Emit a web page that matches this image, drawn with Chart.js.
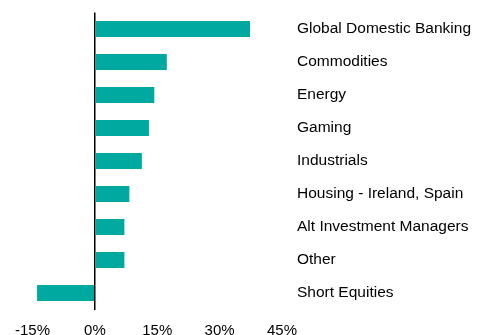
<!DOCTYPE html>
<html lang="en">

<head>
    <meta charset="UTF-8">
    <script src="https://cdn.jsdelivr.net/npm/chart.js"></script>
    <title>Exposure by theme</title>
    <style>
        html, body { margin: 0; padding: 0; background: #fff; }
        .wrap { width: 484px; height: 335px; }
    </style>
</head>

<body>
    <div class="wrap">
        <canvas id="chart-exp" width="484" height="335"></canvas>
    </div>
</body>

</html>

<script>
    const categorias = ['Global Domestic Banking', 'Commodities', 'Energy', 'Gaming', 'Industrials',
        'Housing - Ireland, Spain', 'Alt Investment Managers', 'Other', 'Short Equities'];
    const valores = [37.3, 17.3, 14.3, 13.0, 11.3, 8.3, 7.1, 7.1, -13.9];
    const ticksX = [-15, 0, 15, 30, 45];

    const ctxExp = document.getElementById('chart-exp');

    new Chart(ctxExp, {
        type: 'bar',
        data: {
            labels: categorias,
            datasets: [{
                label: 'Exposure',
                backgroundColor: '#00a9a0',
                borderWidth: 0,
                data: valores,
                barPercentage: 0.97,
                categoryPercentage: 0.5
            }]
        },
        options: {
            indexAxis: 'y',
            responsive: false,
            animation: false,
            layout: {
                padding: { left: 32.5, top: 12.5, right: 0, bottom: 0 }
            },
            plugins: {
                legend: { display: false },
                tooltip: { enabled: false }
            },
            scales: {
                x: {
                    min: ticksX[0],
                    max: ticksX[ticksX.length - 1],
                    afterBuildTicks: (scale) => { scale.ticks = ticksX.map(v => ({ value: v })); },
                    afterFit: (scale) => {
                        scale.height = 25.5;
                        scale.paddingLeft = 0;
                        scale.paddingRight = 0;
                    },
                    border: { display: false },
                    grid: {
                        drawTicks: false,
                        lineWidth: 1.5,
                        color: (c) => c.tick && c.tick.value === 0 ? '#000' : 'transparent'
                    },
                    ticks: {
                        padding: 12,
                        color: '#000',
                        font: { family: 'Liberation Sans, Arial', size: 15 },
                        callback: (v) => v + '%'
                    }
                },
                y: {
                    position: 'right',
                    afterFit: (scale) => {
                        scale.width = 202;
                        scale.paddingTop = 0;
                        scale.paddingBottom = 0;
                    },
                    border: { display: false },
                    grid: { display: false, drawTicks: false },
                    ticks: {
                        crossAlign: 'near',
                        padding: 15,
                        color: '#000',
                        font: { family: 'Liberation Sans, Arial', size: 15.5 }
                    }
                }
            }
        }
    });
</script>
